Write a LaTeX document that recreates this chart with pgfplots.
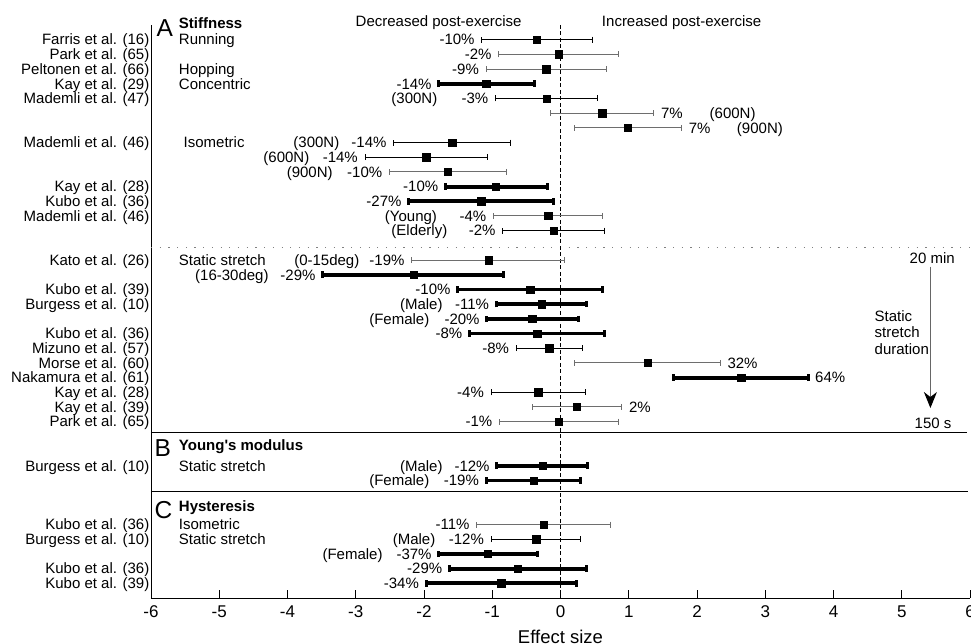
\documentclass[border=0pt]{standalone}
\usepackage{pgfplots}
\pgfplotsset{compat=1.18}
\usepackage{pgfplotstable}
\usepackage{fontspec}
\setmainfont{Liberation Sans}
\usetikzlibrary{arrows.meta}
\definecolor{cigray}{RGB}{110,110,110}
\newcommand\fs{\fontsize{15}{17}\selectfont}
\newcommand\fb{\fontsize{15}{17}\selectfont\bfseries}
\newcommand\fL{\fontsize{24.5}{26}\selectfont}
\tikzset{
  pl/.style={font=\fs, inner sep=0pt, anchor=base east, xshift=-7pt, yshift=-5.3pt},
  pr/.style={font=\fs, inner sep=0pt, anchor=base west, xshift=7pt, yshift=-5.3pt},
  le/.style={font=\fs, inner sep=0pt, anchor=base east, yshift=-5.3pt},
  lw/.style={font=\fs, inner sep=0pt, anchor=base west, yshift=-5.3pt},
  bw/.style={inner sep=0pt, anchor=base west},
}

% row  mean  lower  upper
\pgfplotstableread{
row m lo hi
1 -0.347 -1.154 0.465
5 -0.200 -0.953 0.547
8 -1.588 -2.444 -0.738
9 -1.969 -2.864 -1.066
14 -0.103 -0.846 0.645
22 -0.166 -0.650 0.318
25 -0.327 -1.017 0.367
35 -0.356 -1.017 0.293
}\thinblack

\pgfplotstableread{
row m lo hi
2 -0.025 -0.905 0.855
3 -0.210 -1.090 0.674
6 0.611 -0.151 1.368
7 0.987 0.205 1.774
10 -1.652 -2.507 -0.796
13 -0.180 -0.982 0.620
16 -1.051 -2.180 0.063
23 1.280 0.205 2.342
26 0.239 -0.415 0.899
27 -0.025 -0.894 0.846
34 -0.249 -1.227 0.733
}\thingray

\pgfplotstableread{
row m lo hi
4 -1.090 -1.784 -0.381
11 -0.953 -1.686 -0.195
12 -1.163 -2.224 -0.103
17 -2.151 -3.485 -0.836
18 -0.445 -1.506 0.620
19 -0.279 -0.943 0.376
20 -0.415 -1.080 0.269
21 -0.342 -1.334 0.645
24 2.649 1.661 3.627
30 -0.260 -0.934 0.400
31 -0.396 -1.090 0.289
36 -1.066 -1.784 -0.342
37 -0.626 -1.628 0.376
38 -0.870 -1.969 0.230
}\thick

\begin{document}
\begin{tikzpicture}
\useasboundingbox (-151pt,-46pt) rectangle (820pt,598pt);
\begin{axis}[
  scale only axis, width=819pt, height=573pt,
  xmin=-6, xmax=6, ymin=-39, ymax=0,
  axis x line*=bottom, axis y line*=left,
  axis line style={line width=0.9pt, black},
  xtick={-6,-5,...,6}, ytick=\empty,
  tick align=inside, major tick length=8pt,
  tick style={line width=0.9pt, black},
  /pgf/number format/assume math mode=true,
  xticklabel style={font=\fontsize{17}{19}\selectfont, yshift=-4pt},
  xlabel={Effect size},
  xlabel style={font=\fontsize{18.5}{20}\selectfont, at={(axis description cs:0.5,0)}, anchor=base, yshift=-45.5pt},
  clip=false,
  ci/.style={only marks, mark=square*, mark size=3.7pt, mark options={black, solid},
    error bars/x dir=both, error bars/x explicit, error bars/error mark=|},
]
% reference lines
\addplot[black!50, line width=1pt, dash pattern=on 1.2pt off 7.5pt] coordinates {(-6,-15.16) (6,-15.16)};
\addplot[black, line width=0.8pt] coordinates {(-6,-27.72) (5.95,-27.72)};
\addplot[black, line width=0.8pt] coordinates {(-6,-31.76) (5.97,-31.76)};
\addplot[black, line width=1.8pt, dash pattern=on 4pt off 2.5pt] coordinates {(0,0) (0,-39)};

% confidence intervals
\addplot[ci, error bars/error bar style={line width=1pt, black},
  error bars/error mark options={line width=1pt, mark size=3pt, black}]
  table[x=m, y expr=-\thisrow{row}, x error plus expr=\thisrow{hi}-\thisrow{m}, x error minus expr=\thisrow{m}-\thisrow{lo}] {\thinblack};
\addplot[ci, error bars/error bar style={line width=1pt, cigray},
  error bars/error mark options={line width=1pt, mark size=3pt, cigray}]
  table[x=m, y expr=-\thisrow{row}, x error plus expr=\thisrow{hi}-\thisrow{m}, x error minus expr=\thisrow{m}-\thisrow{lo}] {\thingray};
\addplot[ci, error bars/error bar style={line width=3.8pt, black},
  error bars/error mark options={line width=3pt, mark size=3.3pt, black}]
  table[x=m, y expr=-\thisrow{row}, x error plus expr=\thisrow{hi}-\thisrow{m}, x error minus expr=\thisrow{m}-\thisrow{lo}] {\thick};

% duration arrow
\addplot[black!60, line width=1.1pt, -{Stealth[length=16pt, width=13pt, inset=5pt, black]}] coordinates {(5.42,-16.45) (5.42,-26.07)};

% section headings
\node[bw, font=\fL] at (axis cs:-5.92,-0.75) {A};
\node[bw, font=\fb] at (axis cs:-5.593,-0.22) {Stiffness};
\node[bw, font=\fL] at (axis cs:-5.949,-29.39) {B};
\node[bw, font=\fb] at (axis cs:-5.593,-28.98) {Young\textquotesingle s modulus};
\node[bw, font=\fL] at (axis cs:-5.95,-33.56) {C};
\node[bw, font=\fb] at (axis cs:-5.593,-33.08) {Hysteresis};
\node[bw, font=\fs] at (axis cs:-3.004,-0.07) {Decreased post-exercise};
\node[bw, font=\fs] at (axis cs:0.605,-0.07) {Increased post-exercise};

% study labels
\node[le, xshift=-1.5pt] at (axis cs:-6,-1) {Farris et al. (16)};
\node[le, xshift=-1.5pt] at (axis cs:-6,-2) {Park et al. (65)};
\node[le, xshift=-1.5pt] at (axis cs:-6,-3) {Peltonen et al. (66)};
\node[le, xshift=-1.5pt] at (axis cs:-6,-4) {Kay et al. (29)};
\node[le, xshift=-1.5pt] at (axis cs:-6,-5) {Mademli et al. (47)};
\node[le, xshift=-1.5pt] at (axis cs:-6,-8) {Mademli et al. (46)};
\node[le, xshift=-1.5pt] at (axis cs:-6,-11) {Kay et al. (28)};
\node[le, xshift=-1.5pt] at (axis cs:-6,-12) {Kubo et al. (36)};
\node[le, xshift=-1.5pt] at (axis cs:-6,-13) {Mademli et al. (46)};
\node[le, xshift=-1.5pt] at (axis cs:-6,-16) {Kato et al. (26)};
\node[le, xshift=-1.5pt] at (axis cs:-6,-18) {Kubo et al. (39)};
\node[le, xshift=-1.5pt] at (axis cs:-6,-19) {Burgess et al. (10)};
\node[le, xshift=-1.5pt] at (axis cs:-6,-21) {Kubo et al. (36)};
\node[le, xshift=-1.5pt] at (axis cs:-6,-22) {Mizuno et al. (57)};
\node[le, xshift=-1.5pt] at (axis cs:-6,-23) {Morse et al. (60)};
\node[le, xshift=-1.5pt] at (axis cs:-6,-24) {Nakamura et al. (61)};
\node[le, xshift=-1.5pt] at (axis cs:-6,-25) {Kay et al. (28)};
\node[le, xshift=-1.5pt] at (axis cs:-6,-26) {Kay et al. (39)};
\node[le, xshift=-1.5pt] at (axis cs:-6,-27) {Park et al. (65)};
\node[le, xshift=-1.5pt] at (axis cs:-6,-30) {Burgess et al. (10)};
\node[le, xshift=-1.5pt] at (axis cs:-6,-34) {Kubo et al. (36)};
\node[le, xshift=-1.5pt] at (axis cs:-6,-35) {Burgess et al. (10)};
\node[le, xshift=-1.5pt] at (axis cs:-6,-37) {Kubo et al. (36)};
\node[le, xshift=-1.5pt] at (axis cs:-6,-38) {Kubo et al. (39)};

% exercise type
\node[lw] at (axis cs:-5.593,-1) {Running};
\node[lw] at (axis cs:-5.593,-3) {Hopping};
\node[lw] at (axis cs:-5.593,-4) {Concentric};
\node[lw] at (axis cs:-5.524,-8) {Isometric};
\node[lw] at (axis cs:-5.593,-16) {Static stretch};
\node[lw] at (axis cs:-5.593,-30) {Static stretch};
\node[lw] at (axis cs:-5.593,-34) {Isometric};
\node[lw] at (axis cs:-5.593,-35) {Static stretch};

% percentage labels
\node[pl] at (axis cs:-1.154,-1) {-10\%};
\node[pl] at (axis cs:-0.905,-2) {-2\%};
\node[pl] at (axis cs:-1.090,-3) {-9\%};
\node[pl] at (axis cs:-1.784,-4) {-14\%};
\node[pl] at (axis cs:-0.953,-5) {-3\%};
\node[pr] at (axis cs:1.368,-6) {7\%};
\node[pr] at (axis cs:1.774,-7) {7\%};
\node[pl] at (axis cs:-2.444,-8) {-14\%};
\node[pl] at (axis cs:-2.864,-9) {-14\%};
\node[pl] at (axis cs:-2.507,-10) {-10\%};
\node[pl] at (axis cs:-1.686,-11) {-10\%};
\node[pl] at (axis cs:-2.224,-12) {-27\%};
\node[pl] at (axis cs:-0.982,-13) {-4\%};
\node[pl] at (axis cs:-0.846,-14) {-2\%};
\node[pl] at (axis cs:-2.180,-16) {-19\%};
\node[pl] at (axis cs:-3.485,-17) {-29\%};
\node[pl] at (axis cs:-1.506,-18) {-10\%};
\node[pl] at (axis cs:-0.943,-19) {-11\%};
\node[pl] at (axis cs:-1.080,-20) {-20\%};
\node[pl] at (axis cs:-1.334,-21) {-8\%};
\node[pl] at (axis cs:-0.650,-22) {-8\%};
\node[pr] at (axis cs:2.342,-23) {32\%};
\node[pr] at (axis cs:3.627,-24) {64\%};
\node[pl] at (axis cs:-1.017,-25) {-4\%};
\node[pr] at (axis cs:0.899,-26) {2\%};
\node[pl] at (axis cs:-0.894,-27) {-1\%};
\node[pl] at (axis cs:-0.934,-30) {-12\%};
\node[pl] at (axis cs:-1.090,-31) {-19\%};
\node[pl] at (axis cs:-1.227,-34) {-11\%};
\node[pl] at (axis cs:-1.017,-35) {-12\%};
\node[pl] at (axis cs:-1.784,-36) {-37\%};
\node[pl] at (axis cs:-1.628,-37) {-29\%};
\node[pl] at (axis cs:-1.969,-38) {-34\%};

% subgroup labels
\node[le] at (axis cs:-1.802,-5) {(300N)};
\node[lw] at (axis cs:2.183,-6) {(600N)};
\node[lw] at (axis cs:2.583,-7) {(900N)};
\node[le] at (axis cs:-3.238,-8) {(300N)};
\node[le] at (axis cs:-3.678,-9) {(600N)};
\node[le] at (axis cs:-3.336,-10) {(900N)};
\node[le] at (axis cs:-1.807,-13) {(Young)};
\node[le] at (axis cs:-1.656,-14) {(Elderly)};
\node[le] at (axis cs:-2.945,-16) {(0-15deg)};
\node[le] at (axis cs:-4.274,-17) {(16-30deg)};
\node[le] at (axis cs:-1.725,-19) {(Male)};
\node[le] at (axis cs:-1.919,-20) {(Female)};
\node[le] at (axis cs:-1.725,-30) {(Male)};
\node[le] at (axis cs:-1.919,-31) {(Female)};
\node[le] at (axis cs:-1.832,-35) {(Male)};
\node[le] at (axis cs:-2.604,-36) {(Female)};

% duration annotation
\node[bw, font=\fs] at (axis cs:5.114,-16.22) {20 min};
\node[bw, font=\fs] at (axis cs:4.601,-20.15) {Static};
\node[bw, font=\fs] at (axis cs:4.601,-21.26) {stretch};
\node[bw, font=\fs] at (axis cs:4.601,-22.42) {duration};
\node[bw, font=\fs] at (axis cs:5.187,-27.46) {150 s};
\end{axis}
\end{tikzpicture}
\end{document}
